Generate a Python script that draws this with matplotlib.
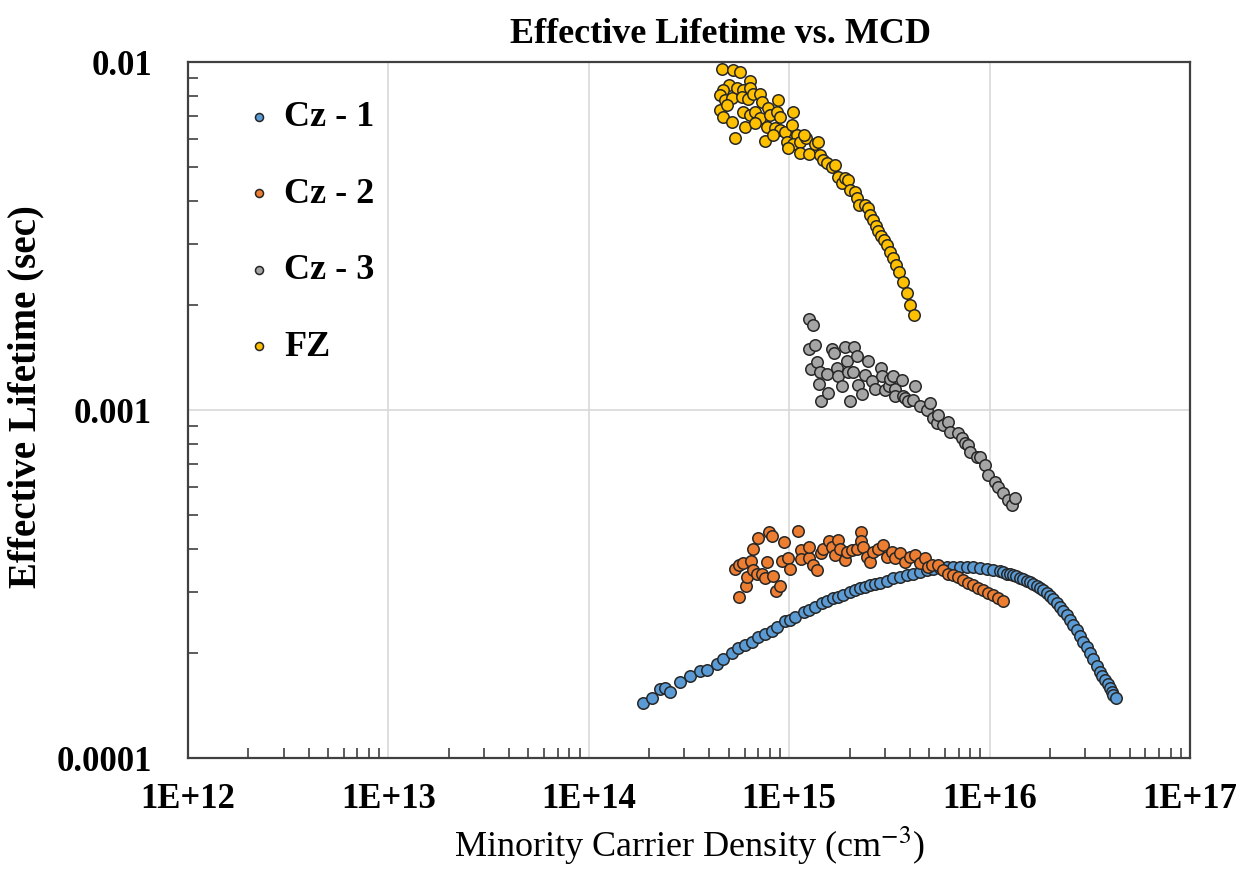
import matplotlib
matplotlib.use("Agg")
import matplotlib.pyplot as plt
from matplotlib.ticker import FixedLocator, FixedFormatter, LogLocator, NullFormatter

plt.rcParams['font.family'] = ['Liberation Serif', 'DejaVu Serif']
plt.rcParams['mathtext.fontset'] = 'stix'

# values (x: cm^-3, y: sec)
cz1_x = [1.87e14, 2.07e14, 2.27e14, 2.40e14, 2.54e14, 2.85e14, 3.20e14, 3.59e14, 3.90e14, 4.35e14,
         4.69e14, 5.17e14, 5.57e14, 6.02e14, 6.50e14, 7.01e14, 7.57e14, 8.18e14, 8.66e14, 9.53e14,
         1.01e15, 1.07e15, 1.18e15, 1.25e15, 1.35e15, 1.45e15, 1.54e15, 1.66e15, 1.76e15, 1.86e15,
         2.01e15, 2.13e15, 2.25e15, 2.39e15, 2.53e15, 2.68e15, 2.84e15, 3.07e15, 3.31e15, 3.57e15,
         3.86e15, 4.16e15, 4.50e15, 4.85e15, 5.24e15, 5.65e15, 6.11e15, 6.59e15, 7.11e15, 7.69e15,
         8.30e15, 8.96e15, 9.67e15, 1.04e16, 1.13e16, 1.17e16, 1.22e16, 1.26e16, 1.31e16, 1.36e16,
         1.42e16, 1.47e16, 1.53e16, 1.59e16, 1.65e16, 1.72e16, 1.78e16, 1.85e16, 1.93e16, 2.00e16,
         2.08e16, 2.16e16, 2.24e16, 2.33e16, 2.43e16, 2.52e16, 2.62e16, 2.72e16, 2.82e16, 2.94e16,
         3.05e16, 3.17e16, 3.29e16, 3.42e16, 3.56e16, 3.66e16, 3.77e16, 3.88e16, 3.99e16, 4.08e16,
         4.14e16, 4.26e16]
cz1_y = [1.44e-4, 1.49e-4, 1.575e-4, 1.59e-4, 1.55e-4, 1.65e-4, 1.72e-4, 1.78e-4, 1.79e-4, 1.86e-4,
         1.93e-4, 2.00e-4, 2.07e-4, 2.11e-4, 2.15e-4, 2.23e-4, 2.27e-4, 2.32e-4, 2.38e-4, 2.47e-4,
         2.49e-4, 2.54e-4, 2.62e-4, 2.66e-4, 2.71e-4, 2.78e-4, 2.83e-4, 2.88e-4, 2.91e-4, 2.94e-4,
         2.99e-4, 3.03e-4, 3.07e-4, 3.11e-4, 3.14e-4, 3.16e-4, 3.19e-4, 3.23e-4, 3.29e-4, 3.32e-4,
         3.36e-4, 3.39e-4, 3.43e-4, 3.47e-4, 3.49e-4, 3.52e-4, 3.53e-4, 3.55e-4, 3.55e-4, 3.55e-4,
         3.53e-4, 3.52e-4, 3.49e-4, 3.47e-4, 3.44e-4, 3.42e-4, 3.39e-4, 3.37e-4, 3.35e-4, 3.33e-4,
         3.30e-4, 3.27e-4, 3.23e-4, 3.20e-4, 3.16e-4, 3.12e-4, 3.07e-4, 3.03e-4, 2.97e-4, 2.92e-4,
         2.86e-4, 2.79e-4, 2.72e-4, 2.65e-4, 2.58e-4, 2.49e-4, 2.41e-4, 2.33e-4, 2.24e-4, 2.16e-4,
         2.08e-4, 2.00e-4, 1.92e-4, 1.84e-4, 1.77e-4, 1.72e-4, 1.68e-4, 1.63e-4, 1.59e-4, 1.55e-4,
         1.52e-4, 1.49e-4]

cz2_x = [5.36e14, 5.64e14, 5.64e14, 5.90e14, 6.09e14, 6.14e14, 6.43e14, 6.62e14, 6.62e14, 6.91e14,
         7.01e14, 7.29e14, 7.57e14, 7.78e14, 7.96e14, 8.18e14, 8.33e14, 8.59e14, 9.00e14, 9.17e14,
         9.42e14, 9.90e14, 1.01e15, 1.11e15, 1.14e15, 1.15e15, 1.25e15, 1.26e15, 1.32e15, 1.38e15,
         1.44e15, 1.48e15, 1.58e15, 1.63e15, 1.69e15, 1.76e15, 1.79e15, 1.90e15, 1.94e15, 2.05e15,
         2.17e15, 2.27e15, 2.28e15, 2.34e15, 2.44e15, 2.53e15, 2.63e15, 2.78e15, 2.95e15, 3.07e15,
         3.25e15, 3.37e15, 3.57e15, 3.78e15, 4.01e15, 4.24e15, 4.50e15, 4.76e15, 4.94e15, 5.14e15,
         5.55e15, 5.87e15, 6.22e15, 6.59e15, 6.98e15, 7.39e15, 7.83e15, 8.29e15, 8.78e15, 9.30e15,
         9.85e15, 1.04e16, 1.10e16, 1.17e16]
cz2_y = [3.49e-4, 2.90e-4, 3.59e-4, 3.63e-4, 3.12e-4, 3.31e-4, 3.69e-4, 4.00e-4, 3.47e-4, 3.38e-4,
         4.28e-4, 3.39e-4, 3.28e-4, 3.66e-4, 4.45e-4, 4.34e-4, 3.33e-4, 3.02e-4, 3.12e-4, 3.69e-4,
         4.18e-4, 3.75e-4, 3.49e-4, 4.49e-4, 3.96e-4, 3.73e-4, 3.76e-4, 4.05e-4, 3.59e-4, 3.47e-4,
         3.88e-4, 4.00e-4, 4.21e-4, 4.05e-4, 3.83e-4, 4.23e-4, 4.00e-4, 3.71e-4, 3.92e-4, 3.96e-4,
         4.00e-4, 4.46e-4, 4.20e-4, 4.05e-4, 3.79e-4, 3.66e-4, 3.92e-4, 3.99e-4, 4.09e-4, 3.79e-4,
         3.92e-4, 3.75e-4, 3.88e-4, 3.66e-4, 3.79e-4, 3.83e-4, 3.63e-4, 3.75e-4, 3.55e-4, 3.59e-4,
         3.59e-4, 3.47e-4, 3.39e-4, 3.36e-4, 3.32e-4, 3.25e-4, 3.18e-4, 3.14e-4, 3.07e-4, 3.04e-4,
         2.97e-4, 2.94e-4, 2.88e-4, 2.83e-4]

cz3_x = [1.25e15, 1.32e15, 1.25e15, 1.29e15, 1.35e15, 1.37e15, 1.41e15, 1.42e15, 1.44e15, 1.54e15,
         1.57e15, 1.63e15, 1.68e15, 1.73e15, 1.76e15, 1.83e15, 1.90e15, 1.94e15, 1.96e15, 2.01e15,
         2.09e15, 2.11e15, 2.17e15, 2.21e15, 2.30e15, 2.39e15, 2.48e15, 2.58e15, 2.68e15, 2.87e15,
         2.89e15, 3.01e15, 3.15e15, 3.18e15, 3.31e15, 3.37e15, 3.37e15, 3.64e15, 3.71e15, 3.78e15,
         3.93e15, 4.16e15, 4.24e15, 4.50e15, 4.85e15, 5.04e15, 5.24e15, 5.45e15, 5.55e15, 5.87e15,
         6.22e15, 6.34e15, 6.98e15, 7.26e15, 7.54e15, 7.83e15, 7.99e15, 8.62e15, 8.96e15, 9.48e15,
         9.85e15, 1.06e16, 1.10e16, 1.17e16, 1.24e16, 1.29e16, 1.34e16]
cz3_y = [1.83e-3, 1.75e-3, 1.50e-3, 1.31e-3, 1.54e-3, 1.37e-3, 1.19e-3, 1.29e-3, 1.06e-3, 1.27e-3,
         1.12e-3, 1.50e-3, 1.46e-3, 1.32e-3, 1.25e-3, 1.17e-3, 1.52e-3, 1.38e-3, 1.29e-3, 1.06e-3,
         1.29e-3, 1.52e-3, 1.43e-3, 1.18e-3, 1.11e-3, 1.26e-3, 1.38e-3, 1.21e-3, 1.15e-3, 1.32e-3,
         1.25e-3, 1.14e-3, 1.17e-3, 1.23e-3, 1.25e-3, 1.15e-3, 1.10e-3, 1.22e-3, 1.10e-3, 1.08e-3,
         1.06e-3, 1.07e-3, 1.17e-3, 1.03e-3, 1.00e-3, 1.05e-3, 9.46e-4, 9.16e-4, 9.67e-4, 9.06e-4,
         9.26e-4, 8.66e-4, 8.57e-4, 8.29e-4, 8.02e-4, 7.93e-4, 7.59e-4, 7.34e-4, 7.34e-4, 6.95e-4,
         6.50e-4, 6.22e-4, 6.02e-4, 5.76e-4, 5.51e-4, 5.33e-4, 5.58e-4]

fz_x = [4.61e14, 5.22e14, 5.68e14, 6.37e14, 5.02e14, 4.69e14, 4.52e14, 5.47e14, 5.86e14, 6.37e14,
        4.78e14, 5.17e14, 5.79e14, 6.25e14, 6.62e14, 7.15e14, 7.29e14, 8.82e14, 4.52e14, 4.91e14,
        5.90e14, 6.37e14, 6.75e14, 7.15e14, 7.87e14, 8.02e14, 8.66e14, 9.00e14, 1.05e15, 4.69e14,
        5.17e14, 6.02e14, 6.75e14, 7.72e14, 8.49e14, 9.00e14, 9.53e14, 1.03e15, 1.09e15, 5.36e14,
        7.57e14, 8.33e14, 9.72e14, 1.05e15, 1.13e15, 1.22e15, 1.13e15, 1.25e15, 1.35e15, 1.42e15,
        1.18e15, 9.90e14, 1.40e15, 1.48e15, 1.54e15, 1.63e15, 1.69e15, 1.76e15, 1.83e15, 1.90e15,
        1.97e15, 2.01e15, 2.13e15, 2.17e15, 2.24e15, 2.39e15, 2.48e15, 2.53e15, 2.63e15, 2.71e15,
        2.78e15, 2.86e15, 2.97e15, 3.07e15, 3.18e15, 3.29e15, 3.41e15, 3.54e15, 3.71e15, 3.86e15,
        4.01e15, 4.20e15]
fz_y = [9.55e-3, 9.48e-3, 9.34e-3, 8.82e-3, 8.59e-3, 8.31e-3, 8.04e-3, 8.40e-3, 8.31e-3, 8.40e-3,
        7.78e-3, 7.87e-3, 7.95e-3, 7.83e-3, 8.08e-3, 8.08e-3, 7.69e-3, 7.78e-3, 7.28e-3, 7.52e-3,
        7.17e-3, 7.04e-3, 7.20e-3, 6.89e-3, 7.36e-3, 7.04e-3, 7.17e-3, 6.96e-3, 7.17e-3, 6.96e-3,
        6.74e-3, 6.52e-3, 6.67e-3, 6.52e-3, 6.45e-3, 6.37e-3, 6.31e-3, 6.59e-3, 6.17e-3, 6.06e-3,
        5.93e-3, 6.17e-3, 5.88e-3, 5.80e-3, 5.88e-3, 6.03e-3, 5.47e-3, 5.43e-3, 5.80e-3, 5.40e-3,
        6.17e-3, 5.65e-3, 5.90e-3, 5.23e-3, 5.12e-3, 5.00e-3, 5.06e-3, 4.68e-3, 4.48e-3, 4.63e-3,
        4.58e-3, 4.29e-3, 4.24e-3, 4.06e-3, 3.88e-3, 3.88e-3, 3.80e-3, 3.63e-3, 3.52e-3, 3.38e-3,
        3.27e-3, 3.16e-3, 3.08e-3, 2.98e-3, 2.85e-3, 2.73e-3, 2.61e-3, 2.49e-3, 2.34e-3, 2.17e-3,
        2.00e-3, 1.87e-3]

series_names = ['Cz - 1', 'Cz - 2', 'Cz - 3', 'FZ']
series_colors = ['#5b9bd5', '#ed7d31', '#a5a5a5', '#ffc000']

x_ticks = [1e12, 1e13, 1e14, 1e15, 1e16, 1e17]
x_tick_labels = ['1E+12', '1E+13', '1E+14', '1E+15', '1E+16', '1E+17']
y_ticks = [1e-4, 1e-3, 1e-2]
y_tick_labels = ['0.0001', '0.001', '0.01']

fig = plt.figure(figsize=(12.51, 8.75), dpi=100)
ax = fig.add_axes([0.1503, 0.1337, 0.8009, 0.7954])

data = [(cz1_x, cz1_y), (cz2_x, cz2_y), (cz3_x, cz3_y), (fz_x, fz_y)]
for (xs, ys), name, col in zip(data, series_names, series_colors):
    ax.scatter(xs, ys, s=68, c=col, edgecolors='#262626', linewidths=1.1,
               label=name, zorder=3)

ax.set_xscale('log')
ax.set_yscale('log')
ax.set_xlim(1e12, 1e17)
ax.set_ylim(1e-4, 1e-2)

ax.xaxis.set_major_locator(FixedLocator(x_ticks))
ax.xaxis.set_major_formatter(FixedFormatter(x_tick_labels))
ax.yaxis.set_major_locator(FixedLocator(y_ticks))
ax.yaxis.set_major_formatter(FixedFormatter(y_tick_labels))
ax.xaxis.set_minor_locator(LogLocator(base=10, subs=range(2, 10)))
ax.yaxis.set_minor_locator(LogLocator(base=10, subs=range(2, 10)))
ax.xaxis.set_minor_formatter(NullFormatter())
ax.yaxis.set_minor_formatter(NullFormatter())

ax.tick_params(which='major', length=0, labelsize=25, pad=18)
ax.tick_params(axis='y', which='major', pad=26)
ax.tick_params(which='minor', direction='in', length=7, width=1.2, color='#404040')
for lab in ax.get_xticklabels() + ax.get_yticklabels():
    lab.set_fontweight('bold')

ax.grid(True, which='major', color='#d9d9d9', linewidth=1.2, zorder=0)
ax.set_axisbelow(True)
for sp in ax.spines.values():
    sp.set_color('#404040')
    sp.set_linewidth(1.6)

ax.set_title('Effective Lifetime vs. MCD', fontsize=26, fontweight='bold', pad=14, x=0.531)
ax.set_xlabel('Minority Carrier Density (cm$^{-3}$)', fontsize=26, labelpad=6)
ax.set_ylabel('Effective Lifetime (sec)', fontsize=28, fontweight='bold')
ax.yaxis.set_label_coords(-0.143, 0.519)

leg = ax.legend(loc='upper left', bbox_to_anchor=(0.035, 0.965), frameon=False,
                fontsize=26, markerscale=0.7, labelspacing=1.2, handletextpad=0.1,
                handlelength=1.2, borderaxespad=0)
for t in leg.get_texts():
    t.set_fontweight('bold')

fig.savefig('out.png', dpi=100)
